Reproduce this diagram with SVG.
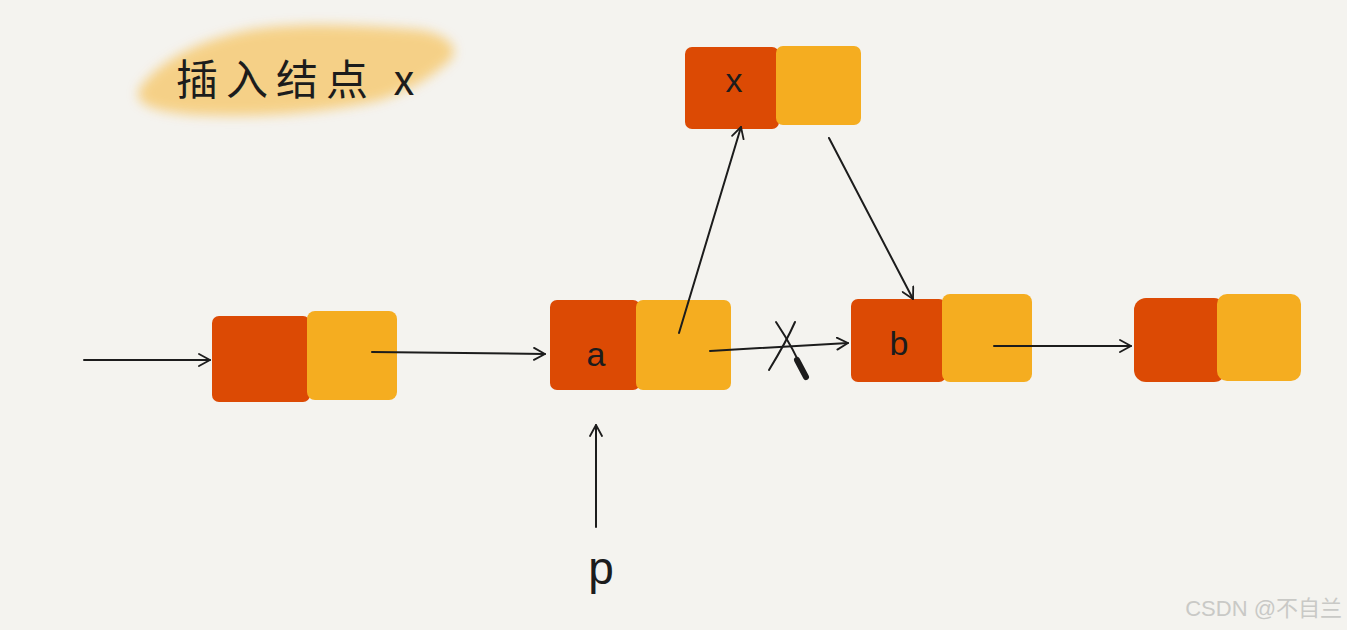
<svg xmlns="http://www.w3.org/2000/svg" width="1347" height="630" viewBox="0 0 1347 630">
<defs>
<style>
.red{fill:#dc4a04}
.yel{fill:#f5ad20}
.ln{fill:none;stroke:#1c1c1c;stroke-width:2;stroke-linecap:round;stroke-linejoin:round}
.lbl{font-family:"Liberation Sans","DejaVu Sans",sans-serif;font-size:34px;fill:#1c1c1c;text-anchor:middle}
.title{font-family:"Noto Sans CJK SC","DejaVu Sans",sans-serif;font-size:42px;fill:#1c1c1c;letter-spacing:8px}
.wm{font-family:"Liberation Sans","Noto Sans CJK SC",sans-serif;font-size:22px;fill:#c9c9c6;text-anchor:end}
</style>
<marker id="ah" viewBox="0 0 14 14" refX="12" refY="7" markerWidth="14" markerHeight="14" markerUnits="userSpaceOnUse" orient="auto">
<path d="M1,1 L12,7 L1,13" fill="none" stroke="#1c1c1c" stroke-width="1.8" stroke-linecap="round" stroke-linejoin="round"/>
</marker>
<filter id="blur" x="-20%" y="-50%" width="140%" height="200%"><feGaussianBlur stdDeviation="6"/></filter>
</defs>
<rect width="1347" height="630" fill="#f4f3ef"/>

<g id="title">
<path d="M140,88 C160,60 200,40 250,30 C300,22 360,25 420,30 C450,35 462,50 448,62 C430,78 410,90 380,100 C330,112 260,118 200,115 C160,113 130,105 140,88 Z" fill="#f6cd7c" filter="url(#blur)" opacity="0.9"/>
<text class="title" x="176" y="95">插入结点 x</text>
</g>

<g id="node1">
<rect class="red" x="212" y="316" width="98" height="86" rx="7"/>
<rect class="yel" x="307" y="311" width="90" height="89" rx="8"/>
</g>

<g id="nodeA">
<rect class="red" x="550" y="300" width="90" height="90" rx="7"/>
<rect class="yel" x="636" y="300" width="95" height="90" rx="7"/>
<text class="lbl" x="596" y="366">a</text>
</g>

<g id="nodeX">
<rect class="red" x="685" y="47" width="94" height="82" rx="7"/>
<rect class="yel" x="776" y="46" width="85" height="79" rx="7"/>
<text class="lbl" x="734" y="92">x</text>
</g>

<g id="nodeB">
<rect class="red" x="851" y="299" width="95" height="83" rx="7"/>
<rect class="yel" x="942" y="294" width="90" height="88" rx="8"/>
<text class="lbl" x="899" y="355">b</text>
</g>

<g id="node4">
<rect class="red" x="1134" y="298" width="92" height="84" rx="12"/>
<rect class="yel" x="1217" y="294" width="84" height="87" rx="10"/>
</g>

<g id="connectors">
<line class="ln" x1="84" y1="360" x2="210" y2="360" marker-end="url(#ah)"/>
<line class="ln" x1="372" y1="352" x2="545" y2="354" marker-end="url(#ah)"/>
<line class="ln" x1="679" y1="333" x2="741" y2="127" marker-end="url(#ah)"/>
<line class="ln" x1="829" y1="138" x2="913" y2="299" marker-end="url(#ah)"/>
<line class="ln" x1="710" y1="351" x2="848" y2="343" marker-end="url(#ah)"/>
<line class="ln" x1="994" y1="346" x2="1131" y2="346" marker-end="url(#ah)"/>
<line class="ln" x1="596" y1="527" x2="596" y2="425" marker-end="url(#ah)"/>
<path class="ln" d="M776,322 C788,340 798,358 805,376" stroke-width="3"/>
<path d="M797,360 L806,377" stroke="#1c1c1c" stroke-width="6" stroke-linecap="round"/>
<path class="ln" d="M795,322 C788,338 780,352 769,370" stroke-width="2.5"/>
</g>

<text class="lbl" x="601" y="584" style="font-size:46px">p</text>

<text class="wm" x="1342" y="616">CSDN @不自兰</text>
</svg>
